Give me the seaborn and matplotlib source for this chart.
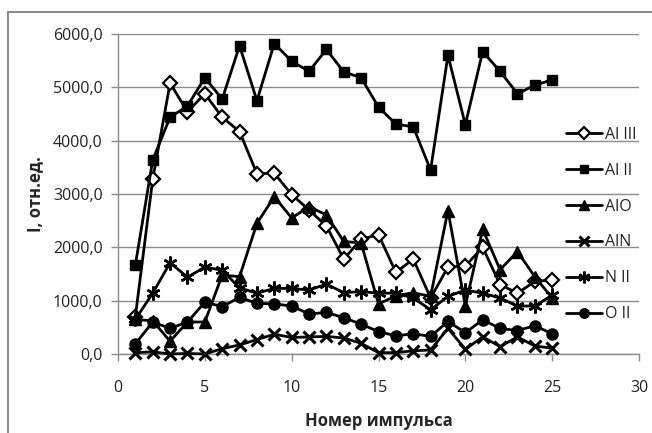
import numpy as np
import pandas as pd
import seaborn as sns
import matplotlib.pyplot as plt
from matplotlib.lines import Line2D
from matplotlib.ticker import FuncFormatter

# pulse number
pulse = list(range(1, 26))

al_iii = [700, 3280, 5080, 4540, 4880, 4440, 4170, 3380, 3390, 2990, 2700, 2400, 1780,
          2150, 2240, 1530, 1780, 1050, 1630, 1650, 2000, 1300, 1140, 1360, 1390]
al_ii = [1670, 3640, 4440, 4650, 5180, 4780, 5780, 4750, 5820, 5490, 5300, 5710, 5290,
         5180, 4630, 4310, 4260, 3450, 5600, 4300, 5670, 5300, 4880, 5040, 5140]
alo = [650, 620, 240, 600, 600, 1480, 1450, 2450, 2950, 2550, 2760, 2610, 2110,
       2080, 940, 1090, 1150, 1080, 2690, 900, 2340, 1580, 1920, 1450, 1050]
aln = [25, 40, 0, 10, 0, 100, 170, 270, 370, 310, 320, 330, 300,
       200, 25, 25, 60, 75, 480, 90, 320, 140, 320, 150, 110]
n_ii = [650, 1140, 1710, 1440, 1630, 1570, 1240, 1140, 1230, 1230, 1200, 1310, 1150,
        1170, 1140, 1140, 1050, 830, 1080, 1200, 1140, 1050, 900, 900, 1100]
o_ii = [190, 600, 480, 600, 970, 890, 1060, 950, 940, 900, 750, 780, 680,
        560, 420, 340, 380, 330, 610, 400, 640, 480, 440, 530, 380]

series_names = ['Al III', 'Al II', 'AlO', 'AlN', 'N II', 'O II']
series_values = [al_iii, al_ii, alo, aln, n_ii, o_ii]

# marker, size, face colour, edge width
styles = {
    'Al III': ('D', 7.0, 'white', 1.6),
    'Al II': ('s', 7.5, 'black', 1.0),
    'AlO': ('^', 8.0, 'black', 1.0),
    'AlN': ('x', 8.5, 'black', 2.2),
    'N II': ((6, 2, 0), 10.0, 'black', 1.8),
    'O II': ('o', 8.0, 'black', 1.0),
}

df = pd.DataFrame({
    'pulse': np.tile(pulse, len(series_names)),
    'value': np.concatenate(series_values),
    'series': np.repeat(series_names, len(pulse)),
})

sns.set_style('white')
plt.rcParams['font.family'] = ['Open Sans', 'DejaVu Sans']

fig = plt.figure(figsize=(6.52, 4.33), dpi=100)
ax = fig.add_axes([118 / 652, 1 - 354 / 433, 521 / 652, 320 / 433])

grey = '#8c8c8c'
handles = []
for name in series_names:
    marker, ms, fc, mew = styles[name]
    sub = df[df['series'] == name]
    sns.lineplot(data=sub, x='pulse', y='value', ax=ax, color='black', lw=2.0,
                 marker=marker, markersize=ms, markerfacecolor=fc,
                 markeredgecolor='black', markeredgewidth=mew, legend=False,
                 clip_on=False, zorder=3)
    handles.append(Line2D([], [], color='black', lw=2.0, marker=marker, markersize=ms * 0.85,
                          markerfacecolor=fc, markeredgecolor='black',
                          markeredgewidth=mew))

ax.set_xlim(0, 30)
ax.set_ylim(0, 6000)
ax.set_xticks(range(0, 31, 5))
ax.set_yticks(range(0, 6001, 1000))
ax.yaxis.set_major_formatter(FuncFormatter(lambda v, p: f'{v:.1f}'.replace('.', ',')))
ax.yaxis.grid(True, color=grey, lw=1.0)
ax.xaxis.grid(False)
for side in ['top', 'right']:
    ax.spines[side].set_visible(False)
for side in ['left', 'bottom']:
    ax.spines[side].set_color(grey)
    ax.spines[side].set_linewidth(1.0)
ax.tick_params(axis='both', which='major', direction='out', length=5, width=1.0,
               color=grey, labelsize=11.5, labelcolor='#222222', pad=6, left=True, bottom=True)
ax.tick_params(axis='x', pad=14)

ax.set_xlabel('Номер импульса', fontsize=12, fontweight='bold', labelpad=11)
ax.set_ylabel('I, отн.ед.', fontsize=12, fontweight='bold', labelpad=6)

fig.legend(handles, series_names, loc='center left', bbox_to_anchor=(566 / 652, 1 - 224.5 / 433),
           frameon=False, fontsize=11.5, handlelength=2.25, handletextpad=0.2,
           labelspacing=1.25, borderpad=0, borderaxespad=0)

# outer chart frame
fig.add_artist(Line2D([8 / 652, 8 / 652], [0, 1 - 11.7 / 433], transform=fig.transFigure,
                      color=grey, lw=1.5))
fig.add_artist(Line2D([8 / 652, 1], [1 - 11.7 / 433, 1 - 11.7 / 433], transform=fig.transFigure,
                      color=grey, lw=1.5))

fig.savefig('out.png', dpi=100)
